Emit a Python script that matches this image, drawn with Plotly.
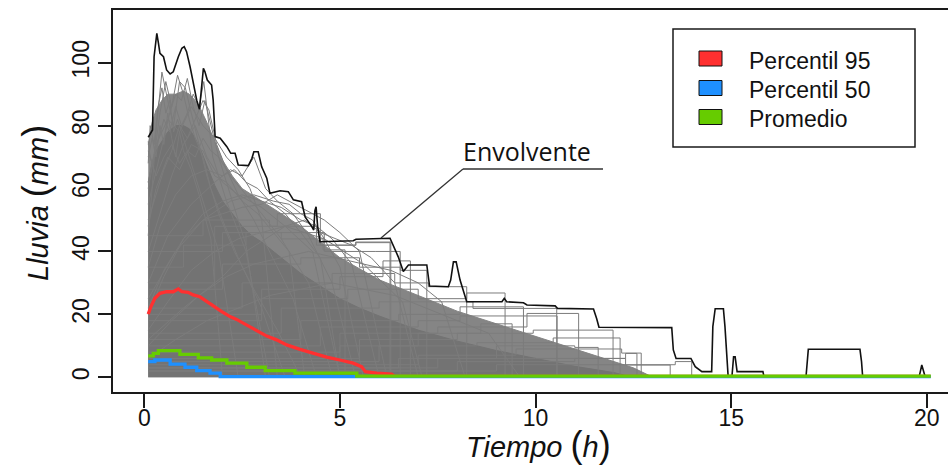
import plotly.graph_objects as go

# ---------------- data ----------------
# Envelope (maximum over all storms), time in hours, rainfall in mm
env_t = [0.10, 0.21, 0.25, 0.32, 0.36, 0.40, 0.49, 0.57, 0.66, 0.74, 0.87, 0.96, 1.02, 1.08,
         1.17, 1.25, 1.34, 1.41, 1.47, 1.51, 1.55, 1.61, 1.72, 1.76, 1.81, 1.94, 2.11, 2.21,
         2.32, 2.40, 2.66, 2.75, 2.80, 2.91, 3.00, 3.13, 3.21, 3.47, 3.68, 3.81, 4.02, 4.11,
         4.28, 4.33, 4.36, 4.39, 4.43, 4.49, 5.34, 5.41, 6.28, 6.37, 6.49, 6.62, 6.75, 7.22,
         7.29, 7.77, 7.83, 7.90, 7.97, 8.07, 8.20, 8.24, 9.14, 9.20, 9.26, 9.69, 9.78, 10.50,
         10.56, 11.48, 11.56, 11.62, 13.48, 13.52, 13.59, 13.97, 14.08, 14.25, 14.50, 14.53,
         14.59, 14.80, 14.84, 14.89, 14.92, 15.02, 15.06, 15.10, 15.15, 15.81, 15.84, 16.91,
         16.95, 16.97, 18.29, 18.33, 18.36, 19.80, 19.87, 19.96]
env_p = [76.3, 78.6, 101.9, 109.3, 106.3, 103.0, 101.9, 97.7, 96.4, 97.1, 101.9, 104.6, 105.1, 103.5,
         98.7, 93.4, 88.1, 85.2, 92.4, 98.2, 97.1, 94.5, 92.9, 88.1, 76.5, 76.0, 73.3, 71.2,
         71.2, 67.5, 67.3, 69.6, 71.7, 71.7, 66.9, 63.3, 58.5, 59.3, 59.0, 56.4, 55.8, 51.0,
         47.9, 46.8, 53.0, 54.2, 47.9, 43.1, 43.4, 43.9, 44.2, 41.5, 38.3, 33.6, 35.7, 35.7,
         29.0, 28.8, 30.9, 36.7, 36.7, 30.9, 25.1, 24.0, 24.0, 25.1, 24.0, 23.7, 23.0, 22.7,
         21.9, 21.7, 18.7, 15.9, 15.8, 8.7, 6.0, 6.0, 3.4, 1.8, 1.8, 16.1,
         21.8, 21.8, 16.1, 5.5, 0.5, 0.5, 6.5, 6.5, 1.8, 1.8, 0.0, 0.0,
         5.0, 8.9, 8.9, 5.0, 0.0, 0.0, 3.9, 0.0]

# Percentile 95
p95_t = [0.10, 0.17, 0.27, 0.40, 0.57, 0.74, 0.87, 0.96, 1.12, 1.25, 1.42, 1.60, 1.81, 1.98,
         2.19, 2.36, 2.62, 2.87, 3.13, 3.38, 3.64, 3.98, 4.32, 4.66, 5.00, 5.34, 5.55, 5.65,
         5.94, 6.32, 6.40, 20.10]
p95_p = [20.1, 22.5, 25.1, 26.7, 27.2, 27.2, 28.1, 27.2, 27.0, 26.2, 25.6, 24.0, 22.4, 20.9,
         19.3, 18.4, 16.6, 14.8, 13.1, 11.9, 10.3, 8.9, 7.6, 6.4, 5.5, 4.5, 3.4, 1.8,
         1.3, 1.0, 0.3, 0.3]

# Percentile 50 (step series)
p50_t = [0.10, 0.27, 0.66, 1.04, 1.34, 1.68, 1.94, 20.10]
p50_p = [5.0, 5.5, 4.2, 3.2, 2.1, 1.3, 0.2, 0.2]

# Mean (step series)
prom_t = [0.10, 0.23, 0.36, 0.91, 1.38, 1.72, 2.11, 2.62, 3.09, 3.85, 5.43, 20.10]
prom_p = [6.8, 7.6, 8.5, 7.3, 6.2, 5.5, 4.5, 3.2, 2.1, 1.3, 0.4, 0.4]

# Zone where the storm hyetographs overlap densely (outer edge)
denso_t = [0.10, 0.20, 0.30, 0.45, 0.60, 0.80, 1.00, 1.15, 1.30, 1.45, 1.60, 1.80, 2.00, 2.25,
           2.50, 2.75, 3.00, 3.50, 4.00, 4.50, 5.00, 6.00, 7.00, 8.00, 9.00, 10.00, 11.00,
           12.00, 12.50, 13.00]
denso_p = [74, 81, 85, 88, 90, 90, 91, 90, 88, 85, 81, 75, 69, 64,
           60, 58, 56, 52, 48, 43, 38, 31, 26, 21, 17, 13, 9,
           5, 3, 0]

# Solid core of the storm hyetographs (upper edge)
nucleo_t = [0.10, 0.20, 0.30, 0.45, 0.60, 0.80, 1.00, 1.15, 1.30, 1.45, 1.60, 1.80, 2.00, 2.25,
            2.50, 2.75, 3.00, 3.50, 4.00, 4.50, 5.00, 5.50, 6.00, 7.00, 8.00, 9.00, 10.00,
            11.00, 12.00, 12.50]
nucleo_p = [62, 68, 72, 75, 78, 80, 80, 79, 76, 72, 67, 61, 56, 52,
            48, 45, 43, 38, 33, 29, 25, 22, 19.5, 15, 11.5, 8.5, 6,
            3.5, 1.5, 0]

# Individual storms with a marked peak (continuous lines)
g01_t = [0.10, 0.20, 0.30, 0.45, 0.60, 0.75, 0.90, 1.05, 1.20, 1.40, 1.60, 1.90, 2.30, 2.80, 3.40, 4.00]
g01_p = [45, 60, 78, 97, 88, 80, 94, 92, 84, 74, 64, 52, 40, 28, 15, 0]
g02_t = [0.10, 0.25, 0.40, 0.55, 0.70, 0.85, 1.00, 1.15, 1.30, 1.50, 1.70, 2.00, 2.40, 3.00, 3.60]
g02_p = [60, 70, 84, 94, 86, 96, 90, 82, 76, 70, 60, 50, 38, 22, 0]
g03_t = [0.10, 0.20, 0.35, 0.50, 0.65, 0.80, 0.95, 1.10, 1.25, 1.40, 1.52, 1.75, 2.10, 2.60, 3.20]
g03_p = [72, 68, 75, 82, 78, 86, 80, 84, 90, 86, 94, 70, 56, 40, 0]
g04_t = [0.10, 0.30, 0.50, 0.70, 0.90, 1.10, 1.30, 1.50, 1.65, 1.85, 2.10, 2.40, 2.80, 3.20, 3.80, 4.40]
g04_p = [50, 58, 66, 72, 80, 76, 82, 88, 85, 74, 66, 58, 50, 40, 25, 0]
g05_t = [0.10, 0.15, 0.30, 0.50, 0.70, 0.90, 1.10, 1.30, 1.50, 1.70, 1.90, 2.20, 2.60, 3.00, 3.50, 4.20, 4.80]
g05_p = [75, 70, 64, 70, 74, 68, 72, 70, 76, 72, 70, 64, 58, 52, 44, 30, 0]
g06_t = [0.10, 0.60, 1.20, 1.80, 2.20, 2.50, 2.80, 3.10, 3.40, 3.80, 4.20, 4.80, 5.40]
g06_p = [30, 45, 55, 62, 66, 64, 70, 60, 56, 52, 45, 30, 0]
g07_t = [0.10, 0.80, 1.50, 2.20, 2.80, 3.30, 3.70, 4.00, 4.30, 4.60, 5.00, 5.60]
g07_p = [25, 40, 50, 56, 58, 56, 55, 52, 50, 44, 35, 0]
g08_t = [0.10, 0.30, 0.60, 0.90, 1.20, 1.50, 1.80, 2.10, 2.40, 2.70, 3.00, 3.40]
g08_p = [62, 74, 82, 78, 86, 80, 76, 70, 66, 60, 50, 0]
g09_t = [0.10, 0.40, 0.70, 1.00, 1.30, 1.60, 2.00, 2.40, 3.00, 3.60, 4.30, 5.00]
g09_p = [40, 52, 64, 74, 80, 70, 62, 58, 54, 48, 40, 0]
g10_t = [0.10, 0.50, 1.00, 1.50, 2.00, 2.50, 3.00, 3.50, 4.00, 4.40, 4.80, 5.30, 6.00]
g10_p = [20, 32, 44, 52, 56, 58, 56, 54, 50, 48, 44, 36, 0]
g11_t = [0.10, 0.15, 0.25, 0.35, 0.45, 0.55, 0.65, 0.75, 0.85, 1.00, 1.20, 1.50, 1.90, 2.40]
g11_p = [68, 80, 74, 86, 92, 84, 88, 78, 82, 76, 68, 56, 40, 0]
g12_t = [0.10, 0.30, 0.50, 0.65, 0.80, 0.95, 1.10, 1.25, 1.40, 1.55, 1.70, 1.90, 2.20, 2.60, 3.10]
g12_p = [55, 66, 76, 84, 90, 88, 95, 86, 80, 88, 80, 70, 58, 42, 0]
g13_t = [0.10, 0.40, 0.80, 1.20, 1.60, 2.00, 2.30, 2.60, 2.90, 3.20, 3.60, 4.00, 4.50, 5.00]
g13_p = [35, 48, 58, 64, 66, 64, 66, 62, 60, 56, 52, 46, 38, 0]
g14_t = [0.10, 0.50, 1.00, 1.50, 2.00, 2.50, 3.00, 3.40, 3.70, 4.00, 4.30, 4.60, 5.00, 5.50, 6.20]
g14_p = [22, 34, 44, 50, 52, 54, 55, 58, 56, 54, 52, 50, 46, 40, 0]
g15_t = [0.10, 0.60, 1.20, 1.80, 2.40, 3.00, 3.60, 4.10, 4.50, 4.90, 5.30, 5.80, 6.40, 7.00]
g15_p = [15, 24, 34, 40, 44, 46, 48, 50, 46, 44, 42, 38, 30, 0]
g16_t = [0.10, 0.70, 1.40, 2.10, 2.80, 3.50, 4.20, 4.90, 5.60, 6.30, 7.00, 7.60, 8.20]
g16_p = [10, 18, 26, 32, 36, 38, 40, 38, 36, 34, 30, 24, 0]
g17_t = [0.10, 0.20, 0.30, 0.40, 0.50, 0.60, 0.70, 0.80, 0.90, 1.00, 1.20, 1.40, 1.70, 2.00]
g17_p = [70, 76, 70, 80, 74, 84, 76, 70, 78, 72, 66, 58, 44, 0]
g18_t = [0.10, 0.30, 0.60, 0.90, 1.20, 1.50, 1.80, 2.10, 2.50, 2.90, 3.30, 3.70, 4.10]
g18_p = [48, 60, 70, 66, 74, 72, 64, 62, 56, 52, 46, 40, 0]
g19_t = [0.10, 1.00, 2.00, 2.60, 3.10, 3.60, 4.10, 4.60, 5.10, 5.60, 6.10, 6.60, 7.10]
g19_p = [12, 22, 32, 40, 44, 48, 46, 44, 40, 36, 30, 24, 0]
g20_t = [0.10, 0.80, 1.60, 2.40, 3.20, 4.00, 4.80, 5.60, 6.40, 7.20, 8.00, 8.80, 9.60]
g20_p = [6, 12, 18, 22, 26, 28, 30, 28, 26, 22, 18, 14, 0]

# Long storms with nearly constant intensity (step lines)
h01_t = [0.10, 1.80, 3.40, 4.50, 5.40, 6.30]
h01_p = [30, 48, 52, 42, 43, 0]
h02_t = [0.10, 1.00, 2.60, 4.60, 5.90, 6.54]
h02_p = [35, 42, 46, 40, 40, 0]
h03_t = [0.10, 2.00, 4.00, 5.50, 6.54, 7.22]
h03_p = [28, 36, 38, 35, 34, 0]
h04_t = [0.10, 2.50, 4.80, 6.40, 7.26, 8.24]
h04_p = [22, 30, 33, 30, 28.8, 0]
h05_t = [0.10, 3.00, 5.20, 7.00, 8.24, 9.22]
h05_p = [18, 25, 28, 25, 26.8, 0]
h06_t = [0.10, 3.50, 6.00, 8.40, 10.54]
h06_p = [14, 22, 24, 21.9, 0]
h07_t = [0.10, 4.00, 6.50, 8.07, 9.69]
h07_p = [12, 18, 20, 22.4, 0]
h08_t = [0.10, 4.50, 7.00, 8.07, 10.55]
h08_p = [10, 16, 18, 19.5, 0]
h09_t = [0.10, 5.00, 7.50, 9.78, 11.10]
h09_p = [8, 14, 16, 20.3, 0]
h10_t = [0.10, 5.50, 8.00, 9.94, 11.98]
h10_p = [6, 12, 14, 15.0, 0]
h11_t = [0.10, 6.00, 8.50, 10.45, 12.16]
h11_p = [5, 10, 11, 12.5, 0]
h12_t = [0.10, 7.00, 9.50, 12.20, 12.70]
h12_p = [4, 7, 9, 7.7, 0]
h13_t = [0.10, 7.50, 10.00, 12.30, 13.44]
h13_p = [3, 6, 6, 3.9, 0]
h14_t = [0.10, 8.00, 11.00, 12.30, 12.59]
h14_p = [2, 5, 6, 7.6, 0]
h15_t = [0.10, 9.00, 12.00, 13.57, 13.99]
h15_p = [2, 4, 4, 5.0, 0]
h16_t = [0.10, 2.00, 3.50, 4.57, 5.13]
h16_p = [40, 46, 44, 40.5, 0]
h17_t = [0.10, 1.50, 3.20, 4.40, 5.41, 6.28]
h17_p = [45, 50, 48, 42, 42.8, 0]
h18_t = [0.10, 5.00, 7.00, 8.60, 9.40]
h18_p = [6, 10, 14, 17, 0]
h19_t = [0.10, 6.50, 9.00, 11.00, 11.60]
h19_p = [3, 6, 10, 9.5, 0]
h20_t = [0.10, 3.00, 5.00, 6.10, 6.80]
h20_p = [20, 28, 32, 37, 0]

x_ticks = [0, 5, 10, 15, 20]
y_ticks = [0, 20, 40, 60, 80, 100]
legend_labels = ["Percentil 95", "Percentil 50", "Promedio"]

# ---------------- styling ----------------
RED = "#FF3030"
BLUE = "#1E90FF"
GREEN = "#66CC00"
GRAY_LINE = "#7c7c7c"
GRAY_DENSE = "#858585"
GRAY_CORE = "#737373"
AXIS = "#1a1a1a"
FONT = "Arial, Liberation Sans, sans-serif"

W, H = 948, 466
L, R, T, B = 113, 948, 10, 392


def px(xp):
    return (xp - L) / (R - L)


def py(yp):
    return (B - yp) / (B - T)


fig = go.Figure()

# densely overlapping zone, then the solid core
fig.add_trace(go.Scatter(x=denso_t, y=denso_p, mode="lines", fill="tozeroy",
                         fillcolor=GRAY_DENSE, line=dict(width=1, color=GRAY_DENSE),
                         hoverinfo="skip", showlegend=False))
fig.add_trace(go.Scatter(x=nucleo_t, y=nucleo_p, mode="lines", fill="tozeroy",
                         fillcolor=GRAY_CORE, line=dict(width=1, color=GRAY_CORE),
                         hoverinfo="skip", showlegend=False))

peaky = [(g01_t, g01_p), (g02_t, g02_p), (g03_t, g03_p), (g04_t, g04_p), (g05_t, g05_p),
         (g06_t, g06_p), (g07_t, g07_p), (g08_t, g08_p), (g09_t, g09_p), (g10_t, g10_p),
         (g11_t, g11_p), (g12_t, g12_p), (g13_t, g13_p), (g14_t, g14_p), (g15_t, g15_p),
         (g16_t, g16_p), (g17_t, g17_p), (g18_t, g18_p), (g19_t, g19_p), (g20_t, g20_p)]
for t, p in peaky:
    fig.add_trace(go.Scatter(x=t, y=p, mode="lines", line=dict(color=GRAY_LINE, width=1),
                             hoverinfo="skip", showlegend=False))

steps = [(h01_t, h01_p), (h02_t, h02_p), (h03_t, h03_p), (h04_t, h04_p), (h05_t, h05_p),
         (h06_t, h06_p), (h07_t, h07_p), (h08_t, h08_p), (h09_t, h09_p), (h10_t, h10_p),
         (h11_t, h11_p), (h12_t, h12_p), (h13_t, h13_p), (h14_t, h14_p), (h15_t, h15_p),
         (h16_t, h16_p), (h17_t, h17_p), (h18_t, h18_p), (h19_t, h19_p), (h20_t, h20_p)]
for t, p in steps:
    fig.add_trace(go.Scatter(x=t, y=p, mode="lines", line=dict(color=GRAY_LINE, width=1, shape="hv"),
                             hoverinfo="skip", showlegend=False))

# envelope
fig.add_trace(go.Scatter(x=env_t, y=env_p, mode="lines", line=dict(color="#111111", width=1.6),
                         showlegend=False))
# percentiles and mean
fig.add_trace(go.Scatter(x=p95_t, y=p95_p, mode="lines", line=dict(color=RED, width=3.3),
                         name=legend_labels[0], showlegend=False))
fig.add_trace(go.Scatter(x=p50_t, y=p50_p, mode="lines", line=dict(color=BLUE, width=3.3, shape="hv"),
                         name=legend_labels[1], showlegend=False))
fig.add_trace(go.Scatter(x=prom_t, y=prom_p, mode="lines", line=dict(color=GREEN, width=3.3, shape="hv"),
                         name=legend_labels[2], showlegend=False))

shapes = []
# legend frame
shapes.append(dict(type="rect", xref="paper", yref="paper", x0=px(673), x1=px(915),
                   y0=py(147), y1=py(29), line=dict(color=AXIS, width=1.5), fillcolor="white", layer="above"))
annotations = []
for lab, col, cy in zip(legend_labels, [RED, BLUE, GREEN], [58.5, 88, 117]):
    shapes.append(dict(type="rect", xref="paper", yref="paper", x0=px(699), x1=px(722),
                       y0=py(cy + 7.5), y1=py(cy - 7.5), line=dict(color="#111", width=1),
                       fillcolor=col, layer="above"))
    annotations.append(dict(x=px(747), y=py(cy + 2), xref="paper", yref="paper", text=lab,
                            showarrow=False, xanchor="left", yanchor="middle",
                            font=dict(family=FONT, size=23, color="#111")))

# "Envolvente" callout
shapes.append(dict(type="line", xref="paper", yref="paper", x0=px(463), x1=px(603),
                   y0=py(169), y1=py(169), line=dict(color="#333", width=1.5)))
shapes.append(dict(type="line", xref="paper", yref="paper", x0=px(463), x1=px(381),
                   y0=py(169), y1=py(238), line=dict(color="#333", width=1.3)))
annotations.append(dict(x=px(461), y=py(151), xref="paper", yref="paper", text="Envolvente",
                        showarrow=False, xanchor="left", yanchor="middle",
                        font=dict(family="Open Sans, sans-serif", size=25, color="#111")))

# axis titles
big = '<span style="font-size:36px">%s</span>'
annotations.append(dict(x=px(538), y=py(444), xref="paper", yref="paper",
                        text="<i>Tiempo</i> " + big % "(" + "<i>h</i>" + big % ")",
                        showarrow=False, xanchor="center", yanchor="middle",
                        font=dict(family=FONT, size=29, color="#111")))
annotations.append(dict(x=px(36), y=py(203), xref="paper", yref="paper", textangle=-90,
                        text="<i>Lluvia</i> " + big % "(" + "<i>mm</i>" + big % ")",
                        showarrow=False, xanchor="center", yanchor="middle",
                        font=dict(family=FONT, size=29, color="#111")))

fig.update_layout(
    width=W, height=H,
    margin=dict(l=L, r=W - R, t=T, b=H - B, pad=0),
    paper_bgcolor="white", plot_bgcolor="white",
    shapes=shapes, annotations=annotations,
    showlegend=False,
    xaxis=dict(range=[-0.80, 20.54], tickvals=x_ticks, showgrid=False, zeroline=False,
               showline=True, mirror=True, linecolor=AXIS, linewidth=1.5,
               ticks="outside", ticklen=14, tickwidth=1.5, tickcolor=AXIS,
               ticklabelstandoff=-9,
               tickfont=dict(family=FONT, size=23, color="#111")),
    yaxis=dict(range=[-4.67, 116.75], tickvals=y_ticks, showgrid=False, zeroline=False,
               showline=True, mirror=False, linecolor=AXIS, linewidth=1.5,
               ticks="outside", ticklen=13, tickwidth=1.5, tickcolor=AXIS, tickangle=-90,
               tickfont=dict(family=FONT, size=23, color="#111")),
)

fig.write_html("out.html")
